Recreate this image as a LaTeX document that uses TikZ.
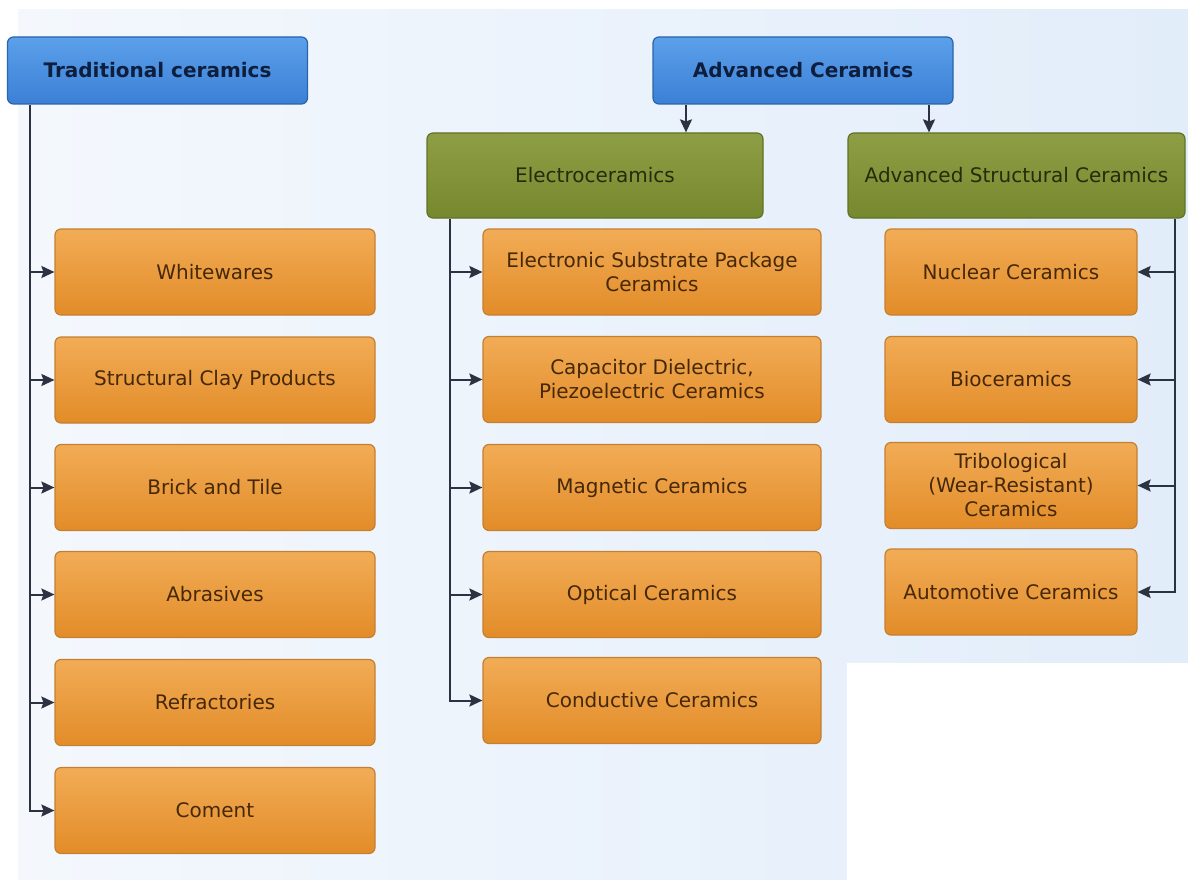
\documentclass[tikz,border=0pt]{standalone}
\usepackage{fontspec}
\setmainfont{DejaVu Sans}
\usetikzlibrary{arrows.meta}
\definecolor{bgA}{RGB}{244,248,253}
\definecolor{bgB}{RGB}{226,237,250}
\definecolor{blueT}{RGB}{92,160,234}
\definecolor{blueB}{RGB}{58,128,214}
\definecolor{blueD}{RGB}{42,100,170}
\definecolor{blueTx}{RGB}{14,30,60}
\definecolor{greenT}{RGB}{142,158,68}
\definecolor{greenB}{RGB}{118,136,46}
\definecolor{greenD}{RGB}{98,114,40}
\definecolor{greenTx}{RGB}{36,44,12}
\definecolor{orT}{RGB}{242,172,86}
\definecolor{orB}{RGB}{226,140,40}
\definecolor{orD}{RGB}{196,128,50}
\definecolor{orTx}{RGB}{70,40,8}
\definecolor{lineC}{RGB}{45,50,66}
\tikzset{
  basebox/.style={rectangle, rounded corners=6pt, line width=1.2pt, align=center,
    inner sep=2pt, font=\fontsize{20}{24}\selectfont},
  bluebox/.style={basebox, draw=blueD, top color=blueT, bottom color=blueB,
    text=blueTx, font=\fontsize{20}{24}\selectfont\bfseries,
    minimum width=300pt, minimum height=67pt},
  greenbox/.style={basebox, draw=greenD, top color=greenT, bottom color=greenB,
    text=greenTx, minimum width=336pt, minimum height=85pt},
  orbox/.style={basebox, draw=orD, top color=orT, bottom color=orB,
    text=orTx, minimum height=86pt},
  lcol/.style={orbox, minimum width=320pt},
  mcol/.style={orbox, minimum width=338pt},
  rcol/.style={orbox, minimum width=252pt},
  conn/.style={draw=lineC, line width=2pt, -{Stealth[length=13pt,width=12pt,inset=2pt]}},
  trunk/.style={draw=lineC, line width=2pt}
}
\begin{document}
\begin{tikzpicture}[x=1pt,y=-1pt]
\useasboundingbox (0,0) rectangle (1188,880);
\fill[white] (0,0) rectangle (1188,880);
\shade[left color=bgA, right color=bgB] (18,10) rectangle (1188,880);
\fill[white] (847,663) rectangle (1188,880);

% top level
\node[bluebox] (trad) at (157.5,70.5) {Traditional ceramics};
\node[bluebox] (adv) at (803,70.5) {Advanced Ceramics};
\node[greenbox] (elec) at (595,175.5) {Electroceramics};
\node[greenbox, minimum width=337pt] (asc) at (1016.5,175.5) {Advanced Structural Ceramics};

% left column
\node[lcol] (l1) at (215,272) {Whitewares};
\node[lcol] (l2) at (215,380) {Structural Clay Products};
\node[lcol] (l3) at (215,487.5) {Brick and Tile};
\node[lcol] (l4) at (215,594.5) {Abrasives};
\node[lcol] (l5) at (215,702.5) {Refractories};
\node[lcol] (l6) at (215,810.5) {Coment};

% middle column
\node[mcol] (m1) at (652,272) {Electronic Substrate Package\\Ceramics};
\node[mcol] (m2) at (652,379.5) {Capacitor Dielectric,\\Piezoelectric Ceramics};
\node[mcol] (m3) at (652,487.5) {Magnetic Ceramics};
\node[mcol] (m4) at (652,594.5) {Optical Ceramics};
\node[mcol] (m5) at (652,700.5) {Conductive Ceramics};

% right column
\node[rcol] (r1) at (1011,272) {Nuclear Ceramics};
\node[rcol] (r2) at (1011,379.5) {Bioceramics};
\node[rcol] (r3) at (1011,485.5) {Tribological\\(Wear-Resistant)\\Ceramics};
\node[rcol] (r4) at (1011,592) {Automotive Ceramics};

% trunk coordinates
\coordinate (tl) at (30,0);
\coordinate (tm) at (450,0);
\coordinate (tr) at (1175,0);
\coordinate (ae) at (686,0);
\coordinate (aa) at (929,0);

% advanced -> subgroups
\draw[conn] (ae |- adv.south) -- (ae |- elec.north);
\draw[conn] (aa |- adv.south) -- (aa |- asc.north);

% left tree
\draw[conn] (tl |- trad.south) |- (l6.west);
\foreach \n in {l1,l2,l3,l4,l5} \draw[conn] (tl |- \n.west) -- (\n.west);

% middle tree
\draw[conn] (tm |- elec.south) |- (m5.west);
\foreach \n in {m1,m2,m3,m4} \draw[conn] (tm |- \n.west) -- (\n.west);

% right tree
\draw[conn] (tr |- asc.south) |- (r4.east);
\foreach \n in {r1,r2,r3} \draw[conn] (tr |- \n.east) -- (\n.east);
\end{tikzpicture}
\end{document}
